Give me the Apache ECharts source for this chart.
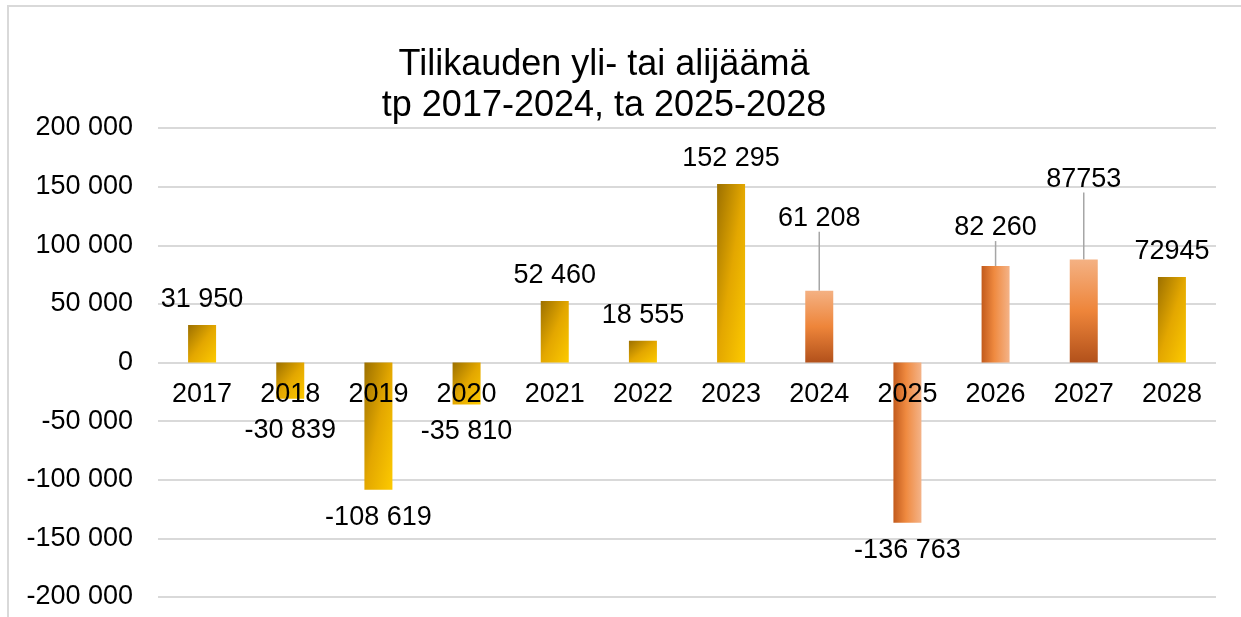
<!DOCTYPE html>
<html>
<head>
<meta charset="utf-8">
<style>
  html, body { margin: 0; padding: 0; background: #fff; overflow: hidden; }
  #frame { position: absolute; left: 7px; top: 5px; width: 1250px; height: 640px; border: 2px solid #d9d9d9; box-sizing: border-box; }
  #main { position: absolute; left: 0; top: 0; width: 1241px; height: 617px; }
</style>
<script src="https://cdn.jsdelivr.net/npm/echarts@6/dist/echarts.min.js"></script>
</head>
<body>
<div id="frame"></div>
<div id="main"></div>
<script>
// vuodet ja tilikauden tulos (tp = tilinpäätös, ta = talousarvio)
const years = ['2017', '2018', '2019', '2020', '2021', '2022', '2023', '2024', '2025', '2026', '2027', '2028'];
const values = [31950, -30839, -108619, -35810, 52460, 18555, 152295, 61208, -136763, 82260, 87753, 72945];
const valueLabels = ['31 950', '-30 839', '-108 619', '-35 810', '52 460', '18 555', '152 295', '61 208', '-136 763', '82 260', '87753', '72945'];
// täyttötyyli per pylväs
const fills = ['gold', 'gold', 'gold', 'gold', 'gold', 'gold', 'gold', 'orangeV', 'orangeH', 'orangeH', 'orangeV', 'gold'];
// osa arvoista on siirretty ylemmäs ohjainviivan kanssa
const labelLift = [0, 4, 0, 0, 0, 0, 0, -47, 0, -13, -55, 0];
const yTicks = [-200000, -150000, -100000, -50000, 0, 50000, 100000, 150000, 200000];

const FONT = '"Liberation Sans", Arial, sans-serif';
const BAR_W = 28;
const PX_PER_UNIT = 58.6 / 50000;

function fillFor(kind, v) {
  if (kind === 'orangeV') {
    return new echarts.graphic.LinearGradient(0, 0, 0, 1, [
      { offset: 0, color: '#f4b183' },
      { offset: 0.5, color: '#ee853a' },
      { offset: 1, color: '#b2511b' }
    ]);
  }
  if (kind === 'orangeH') {
    return new echarts.graphic.LinearGradient(0, 0, 1, 0, [
      { offset: 0, color: '#c25a1c' },
      { offset: 0.45, color: '#ef8a40' },
      { offset: 1, color: '#f4b388' }
    ]);
  }
  // kulta: diagonaali skaalattuna muotoon (kuten Excelissä)
  const h = Math.max(Math.abs(v) * PX_PER_UNIT, 1);
  const w = BAR_W;
  const d = h * h + w * w;
  return new echarts.graphic.LinearGradient(0, 0, 2 * h * h / d, 2 * w * w / d, [
    { offset: 0, color: '#9c7000' },
    { offset: 0.5, color: '#e3a700' },
    { offset: 1, color: '#fdca00' }
  ]);
}

const chart = echarts.init(document.getElementById('main'), null, { renderer: 'canvas' });

const option = {
  animation: false,
  textStyle: { fontFamily: FONT },
  graphic: [{
    type: 'text',
    x: 604,
    y: 45,
    style: {
      text: 'Tilikauden yli- tai alijäämä\ntp 2017-2024, ta 2025-2028',
      align: 'center',
      verticalAlign: 'top',
      font: '36px ' + FONT,
      lineHeight: 41,
      fill: '#000'
    }
  }],
  grid: {
    left: 158,
    right: 25,
    top: 128,
    height: 469,
    containLabel: false,
    outerBoundsMode: 'none'
  },
  xAxis: {
    type: 'category',
    data: years,
    axisLine: { show: false },
    axisTick: { show: false },
    axisLabel: { show: false }
  },
  yAxis: {
    type: 'value',
    min: -200000,
    max: 200000,
    interval: 50000,
    axisLine: { show: false },
    axisTick: { show: false },
    splitLine: { lineStyle: { color: '#d9d9d9', width: 2 } },
    axisLabel: {
      color: '#000',
      fontSize: 27,
      margin: 25,
      fontFamily: FONT,
      formatter: function (v) {
        if (yTicks.indexOf(v) < 0) return '';
        const s = Math.abs(v).toString().replace(/\B(?=(\d{3})+(?!\d))/g, ' ');
        return (v < 0 ? '-' : '') + s;
      }
    }
  },
  series: [{
    type: 'bar',
    barWidth: BAR_W,
    z: 2,
    data: values.map(function (v, i) {
      return {
        value: v,
        itemStyle: { color: fillFor(fills[i], v) },
        label: {
          show: true,
          position: v >= 0 ? 'top' : 'bottom',
          distance: v >= 0 ? 12 : 14,
          formatter: valueLabels[i],
          color: '#000',
          fontSize: 27,
          fontFamily: FONT
        },
        labelLine: {
          show: labelLift[i] < 0,
          lineStyle: { color: '#a6a6a6', width: 1.5 }
        }
      };
    }),
    labelLayout: function (params) {
      return { dy: labelLift[params.dataIndex] };
    }
  }, {
    // vuosiluvut nollaviivan alle, pylväiden päälle
    type: 'scatter',
    silent: true,
    z: 10,
    symbol: 'circle',
    symbolSize: 1,
    itemStyle: { color: 'rgba(0,0,0,0)', opacity: 1 },
    data: years.map(function () { return 0; }),
    label: {
      show: true,
      position: 'bottom',
      distance: 18,
      color: '#000',
      opacity: 1,
      fontSize: 27,
      fontFamily: FONT,
      formatter: function (p) { return years[p.dataIndex]; }
    }
  }]
};

chart.setOption(option);
</script>
</body>
</html>
